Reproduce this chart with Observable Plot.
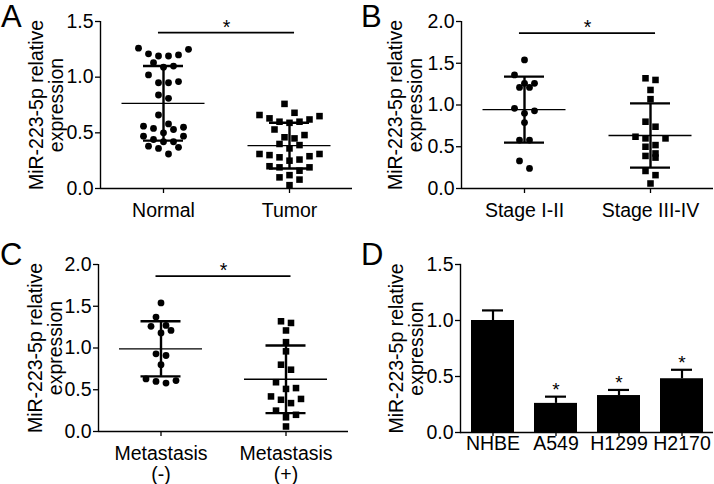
<!DOCTYPE html>
<html><head><meta charset="utf-8">
<script src="https://cdn.jsdelivr.net/npm/d3@7"></script>
<script src="https://cdn.jsdelivr.net/npm/@observablehq/plot@0.6"></script>
<style>
body{margin:0;background:#fff;}
#fig{position:relative;width:714px;height:484px;overflow:hidden;font-family:"Liberation Sans",Arial,sans-serif;color:#000;}
.panel{position:absolute;}
.letter{position:absolute;font-size:31px;line-height:1.1;color:#000;font-family:"Liberation Sans",Arial,sans-serif;}
</style></head><body><div id="fig"></div>
<script>
const yTitle = "MiR-223-5p relative\nexpression";

// Panel A
const aGroups = ["Normal", "Tumor"];
const aNormal = [1.26,1.21,1.19,1.19,1.20,1.25,1.13,1.09,1.10,1.02,0.95,0.95,0.96,0.81,0.84,0.66,0.58,0.55,0.53,0.54,0.56,0.50,0.47,0.47,0.42,0.42,0.44,0.38,0.37,0.36,0.31];
const aTumor = [0.76,0.65,0.62,0.68,0.60,0.59,0.60,0.63,0.66,0.53,0.45,0.46,0.48,0.39,0.36,0.40,0.30,0.29,0.26,0.28,0.31,0.31,0.25,0.20,0.19,0.16,0.19,0.12,0.10,0.08,0.03];
const aMean = [0.765, 0.385];
const aSD = [0.335, 0.205];
const aSig = 1.40;
const aTicks = [0, 0.5, 1.0, 1.5];

// Panel B
const bGroups = ["Stage I-II", "Stage III-IV"];
const bEarly = [1.54,1.36,1.26,1.21,1.21,1.26,0.96,0.90,0.93,0.79,0.58,0.58,0.33,0.24];
const bLate = [1.30,1.32,1.18,1.07,0.74,0.80,0.60,0.52,0.50,0.60,0.62,0.42,0.37,0.39,0.21,0.16,0.06];
const bMean = [0.945, 0.635];
const bSD = [0.395, 0.385];
const bSig = 1.86;
const bTicks = [0, 0.5, 1.0, 1.5, 2.0];

// Panel C
const cGroups = ["Metastasis\n(-)", "Metastasis\n(+)"];
const cNeg = [1.54,1.37,1.27,1.26,1.21,1.18,0.91,0.93,0.80,0.61,0.58,0.60,0.63];
const cPos = [1.32,1.30,1.21,1.07,0.96,0.80,0.74,0.59,0.52,0.51,0.39,0.34,0.38,0.42,0.25,0.17,0.20,0.06];
const cMean = [0.99, 0.625];
const cSD = [0.33, 0.405];
const cSig = 1.86;
const cTicks = [0, 0.5, 1.0, 1.5, 2.0];

// Panel D
const dCells = ["NHBE", "A549", "H1299", "H2170"];
const dMean = [1.00, 0.26, 0.33, 0.48];
const dErr = [0.09, 0.06, 0.05, 0.08];
const dStars = ["", "*", "*", "*"];
const dTicks = [0, 0.5, 1.0, 1.5];

const FONT = 19.5;
const fig = document.getElementById("fig");

function place(svg, left, top) {
  const d = document.createElement("div");
  d.className = "panel";
  d.style.left = left + "px"; d.style.top = top + "px";
  d.appendChild(svg);
  fig.appendChild(d);
}
function letter(t, left, top) {
  const d = document.createElement("div");
  d.className = "letter"; d.textContent = t;
  d.style.left = left + "px"; d.style.top = top + "px";
  fig.appendChild(d);
}

function scatterPanel(o) {
  const {groups, series, means, sds, yMax, yTicks, sigY, mL, mR, mT, mB, width, height, titleDx} = o;
  const pyu = (height - mT - mB) / yMax;
  const pxu = (width - mL - mR) / 2;
  const rowPx = 9, slotPx = 10;
  const pts = [[], []];
  series.forEach((vals, gi) => {
    const sorted = vals.slice().sort((a, b) => b - a);
    let i = 0;
    while (i < sorted.length) {
      const start = sorted[i], row = [];
      while (i < sorted.length && start - sorted[i] < rowPx / pyu) row.push(sorted[i++]);
      const n = row.length;
      const slots = d3.range(n).map(k => (k - (n - 1) / 2) * slotPx);
      let lo = 0, hi = n - 1;
      row.forEach((v, k) => {
        const s = (k % 2 === 0) ? slots[lo++] : slots[hi--];
        pts[gi].push({v, x: gi + s / pxu});
      });
    }
  });
  const idx = [0, 1];
  const capHalf = 20 / pxu, meanHalf = 41.5 / pxu;
  return Plot.plot({
    width, height, marginLeft: mL, marginRight: mR, marginTop: mT, marginBottom: mB,
    style: {fontFamily: "'Liberation Sans', Arial, sans-serif", fontSize: FONT + "px", color: "#000", background: "transparent", overflow: "visible"},
    x: {type: "linear", domain: [-0.5, 1.5]},
    y: {domain: [0, yMax]},
    marks: [
      Plot.ruleY([0], {stroke: "#000", strokeWidth: 1.4}),
      Plot.ruleX([-0.5], {stroke: "#000", strokeWidth: 1.4}),
      Plot.axisY({ticks: yTicks, tickFormat: d3.format(".1f"), tickSize: 5, tickPadding: 2, fontSize: FONT, strokeWidth: 1.3, label: null}),
      Plot.axisX({ticks: [0, 1], tickFormat: i => groups[i], tickSize: 5, tickPadding: 9, fontSize: FONT, strokeWidth: 1.3, label: null, lineHeight: 1.05}),
      Plot.text([yTitle], {frameAnchor: "left", rotate: -90, dx: titleDx, fontSize: FONT, lineHeight: 1.0, textAnchor: "middle"}),
      Plot.dot(pts[0], {x: "x", y: "v", r: 3.4, fill: "#000", stroke: "none", symbol: "circle"}),
      Plot.dot(pts[1], {x: "x", y: "v", r: 3.7, fill: "#000", stroke: "none", symbol: "square"}),
      Plot.ruleX(idx, {x: i => i, y1: i => means[i] - sds[i], y2: i => means[i] + sds[i], stroke: "#000", strokeWidth: 2.4}),
      Plot.ruleY(idx, {y: i => means[i] + sds[i], x1: i => i - capHalf, x2: i => i + capHalf, stroke: "#000", strokeWidth: 2.4}),
      Plot.ruleY(idx, {y: i => means[i] - sds[i], x1: i => i - capHalf, x2: i => i + capHalf, stroke: "#000", strokeWidth: 2.4}),
      Plot.ruleY(idx, {y: i => means[i], x1: i => i - meanHalf, x2: i => i + meanHalf, stroke: "#000", strokeWidth: 1.4}),
      Plot.ruleY([sigY], {y: d => d, x1: -0.04, x2: 1.04, stroke: "#000", strokeWidth: 1.7}),
      Plot.text([sigY], {x: 0.5, y: d => d, text: () => "*", lineAnchor: "bottom", dy: 1, fontSize: FONT})
    ]
  });
}

place(scatterPanel({groups: aGroups, series: [aNormal, aTumor], means: aMean, sds: aSD, yMax: 1.5, yTicks: aTicks, sigY: aSig,
  mL: 100, mR: 5, mT: 21, mB: 54, width: 357, height: 242, titleDx: -54}), 0, 0);
place(scatterPanel({groups: bGroups, series: [bEarly, bLate], means: bMean, sds: bSD, yMax: 2.0, yTicks: bTicks, sigY: bSig,
  mL: 104, mR: 1, mT: 21, mB: 54, width: 357, height: 242, titleDx: -56}), 357, 0);
place(scatterPanel({groups: cGroups, series: [cNeg, cPos], means: cMean, sds: cSD, yMax: 2.0, yTicks: cTicks, sigY: cSig,
  mL: 98, mR: 9, mT: 22, mB: 53, width: 357, height: 242, titleDx: -53}), 0, 242);

const dPlot = Plot.plot({
  width: 357, height: 242, marginLeft: 103, marginRight: 1, marginTop: 22, marginBottom: 52,
  style: {fontFamily: "'Liberation Sans', Arial, sans-serif", fontSize: FONT + "px", color: "#000", background: "transparent", overflow: "visible"},
  x: {type: "band", domain: dCells, paddingInner: 0.32, paddingOuter: 0.16},
  y: {domain: [0, 1.5]},
  marks: [
    Plot.barY(dCells, {x: d => d, y: (d, i) => dMean[i], fill: "#000"}),
    Plot.ruleX(dCells, {x: d => d, y1: (d, i) => dMean[i], y2: (d, i) => dMean[i] + dErr[i], stroke: "#000", strokeWidth: 2.2}),
    Plot.tickY(dCells, {x: d => d, y: (d, i) => dMean[i] + dErr[i], stroke: "#000", strokeWidth: 2.2, insetLeft: 11, insetRight: 11}),
    Plot.text(dCells, {x: d => d, y: (d, i) => dMean[i] + dErr[i], text: (d, i) => dStars[i], lineAnchor: "bottom", dy: -1, fontSize: 19}),
    Plot.ruleY([0], {stroke: "#000", strokeWidth: 1.4}),
    Plot.axisY({ticks: dTicks, tickFormat: d3.format(".1f"), tickSize: 5, tickPadding: 2, fontSize: FONT, strokeWidth: 1.3, label: null}),
    Plot.axisX({tickSize: 4, tickPadding: 0, fontSize: FONT, strokeWidth: 1.3, label: null}),
    Plot.frame({anchor: "left", stroke: "#000", strokeWidth: 1.4}),
    Plot.text([yTitle], {frameAnchor: "left", rotate: -90, dx: -54, fontSize: FONT, lineHeight: 1.0, textAnchor: "middle"})
  ]
});
place(dPlot, 357, 242);

letter("A", 1, 0);
letter("B", 361, 0);
letter("C", 0, 238);
letter("D", 361, 238);
</script>
</body></html>
